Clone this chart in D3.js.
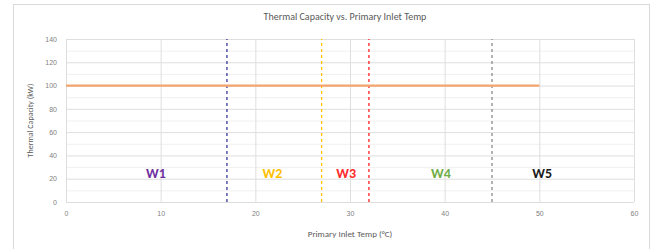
<!DOCTYPE html>
<html>
<head>
<meta charset="utf-8">
<script src="https://cdn.jsdelivr.net/npm/d3@7"></script>
<style>
  body { margin: 0; background: #fff; }
  svg { display: block; font-family: Carlito, Calibri, "Liberation Sans", sans-serif; }
</style>
</head>
<body>
<div id="chart"></div>
<script>
// Data
const capacityTemps = [0, 50];
const capacityValues = [100, 100];
const zoneBounds = [17, 27, 32, 45];
const zoneBoundColours = ['#3a3a9a', '#ffc000', '#ff2020', '#8a8a8a'];
const zoneNames = ['W1', 'W2', 'W3', 'W4', 'W5'];
const zoneLabelX = [9.5, 21.8, 29.6, 39.6, 50.3];
const zoneColours = ['#7030a0', '#ffc000', '#ff2a2a', '#70ad47', '#1a1a1a'];
const xTicks = [0, 10, 20, 30, 40, 50, 60];
const yTicks = [0, 20, 40, 60, 80, 100, 120, 140];

const width = 657;
const height = 249;
const margin = { top: 39, right: 23, bottom: 47, left: 66 };
const labelY = 25;

const svg = d3.select('#chart')
  .append('svg')
  .attr('width', width)
  .attr('height', height);

// chart frame
svg.append('rect')
  .attr('x', 13.5)
  .attr('y', 4.5)
  .attr('width', 636)
  .attr('height', 250)
  .attr('fill', '#fff')
  .attr('stroke', '#d9d9d9');

const x = d3.scaleLinear().domain([0, 60]).range([margin.left, width - margin.right]);
const y = d3.scaleLinear().domain([0, 140]).range([height - margin.bottom, margin.top]);

// minor gridlines
svg.append('g')
  .attr('stroke', '#f0f0f0')
  .selectAll('line')
  .data(d3.range(10, 140, 20))
  .join('line')
  .attr('x1', x(0)).attr('x2', x(60))
  .attr('y1', d => y(d) + 0.5).attr('y2', d => y(d) + 0.5);

// major gridlines
svg.append('g')
  .attr('class', 'y-grid')
  .attr('transform', `translate(${x(0)},0)`)
  .call(d3.axisLeft(y).tickValues(yTicks).tickSize(-(x(60) - x(0))).tickFormat(''))
  .call(g => g.select('.domain').remove())
  .call(g => g.selectAll('line').attr('stroke', '#dedede'));

svg.append('g')
  .attr('class', 'x-grid')
  .attr('transform', `translate(0,${y(0)})`)
  .call(d3.axisBottom(x).tickValues(xTicks).tickSize(-(y(0) - y(140))).tickFormat(''))
  .call(g => g.select('.domain').remove())
  .call(g => g.selectAll('line').attr('stroke', '#dedede'));

// tick labels
svg.append('g')
  .attr('transform', `translate(${x(0)},0)`)
  .call(d3.axisLeft(y).tickValues(yTicks).tickSize(0).tickPadding(9))
  .call(g => g.select('.domain').remove())
  .call(g => g.selectAll('text').attr('fill', '#7f7f7f').style('font-size', '7px'));

svg.append('g')
  .attr('transform', `translate(0,${y(0)})`)
  .call(d3.axisBottom(x).tickValues(xTicks).tickSize(0).tickPadding(9))
  .call(g => g.select('.domain').remove())
  .call(g => g.selectAll('text').attr('fill', '#7f7f7f').style('font-size', '7px'));

// zone boundaries
svg.append('g')
  .selectAll('line')
  .data(zoneBounds)
  .join('line')
  .attr('x1', d => x(d)).attr('x2', d => x(d))
  .attr('y1', y(0)).attr('y2', y(140))
  .attr('stroke', (d, i) => zoneBoundColours[i])
  .attr('stroke-width', 1.3)
  .attr('stroke-dasharray', '3,3');

// capacity line
const line = d3.line()
  .x((d, i) => x(capacityTemps[i]))
  .y(d => y(d));

svg.append('path')
  .datum(capacityValues)
  .attr('fill', 'none')
  .attr('stroke', '#f4a56e')
  .attr('stroke-width', 2.2)
  .attr('d', line);

// zone labels
svg.append('g')
  .selectAll('text')
  .data(zoneNames)
  .join('text')
  .attr('x', (d, i) => x(zoneLabelX[i]))
  .attr('y', y(labelY))
  .attr('text-anchor', 'middle')
  .attr('dy', '0.35em')
  .attr('fill', (d, i) => zoneColours[i])
  .style('font-size', '14px')
  .style('font-weight', 'bold')
  .text(d => d);

// titles
svg.append('text')
  .attr('x', 345)
  .attr('y', 20)
  .attr('text-anchor', 'middle')
  .attr('fill', '#595959')
  .style('font-size', '10px')
  .text('Thermal Capacity vs. Primary Inlet Temp');

svg.append('text')
  .attr('x', 350)
  .attr('y', 237)
  .attr('text-anchor', 'middle')
  .attr('fill', '#595959')
  .style('font-size', '9px')
  .text('Primary Inlet Temp (°C)');

svg.append('text')
  .attr('transform', `translate(33,${(y(0) + y(140)) / 2}) rotate(-90)`)
  .attr('text-anchor', 'middle')
  .attr('fill', '#595959')
  .style('font-size', '8px')
  .text('Thermal Capacity (kW)');
</script>
</body>
</html>
